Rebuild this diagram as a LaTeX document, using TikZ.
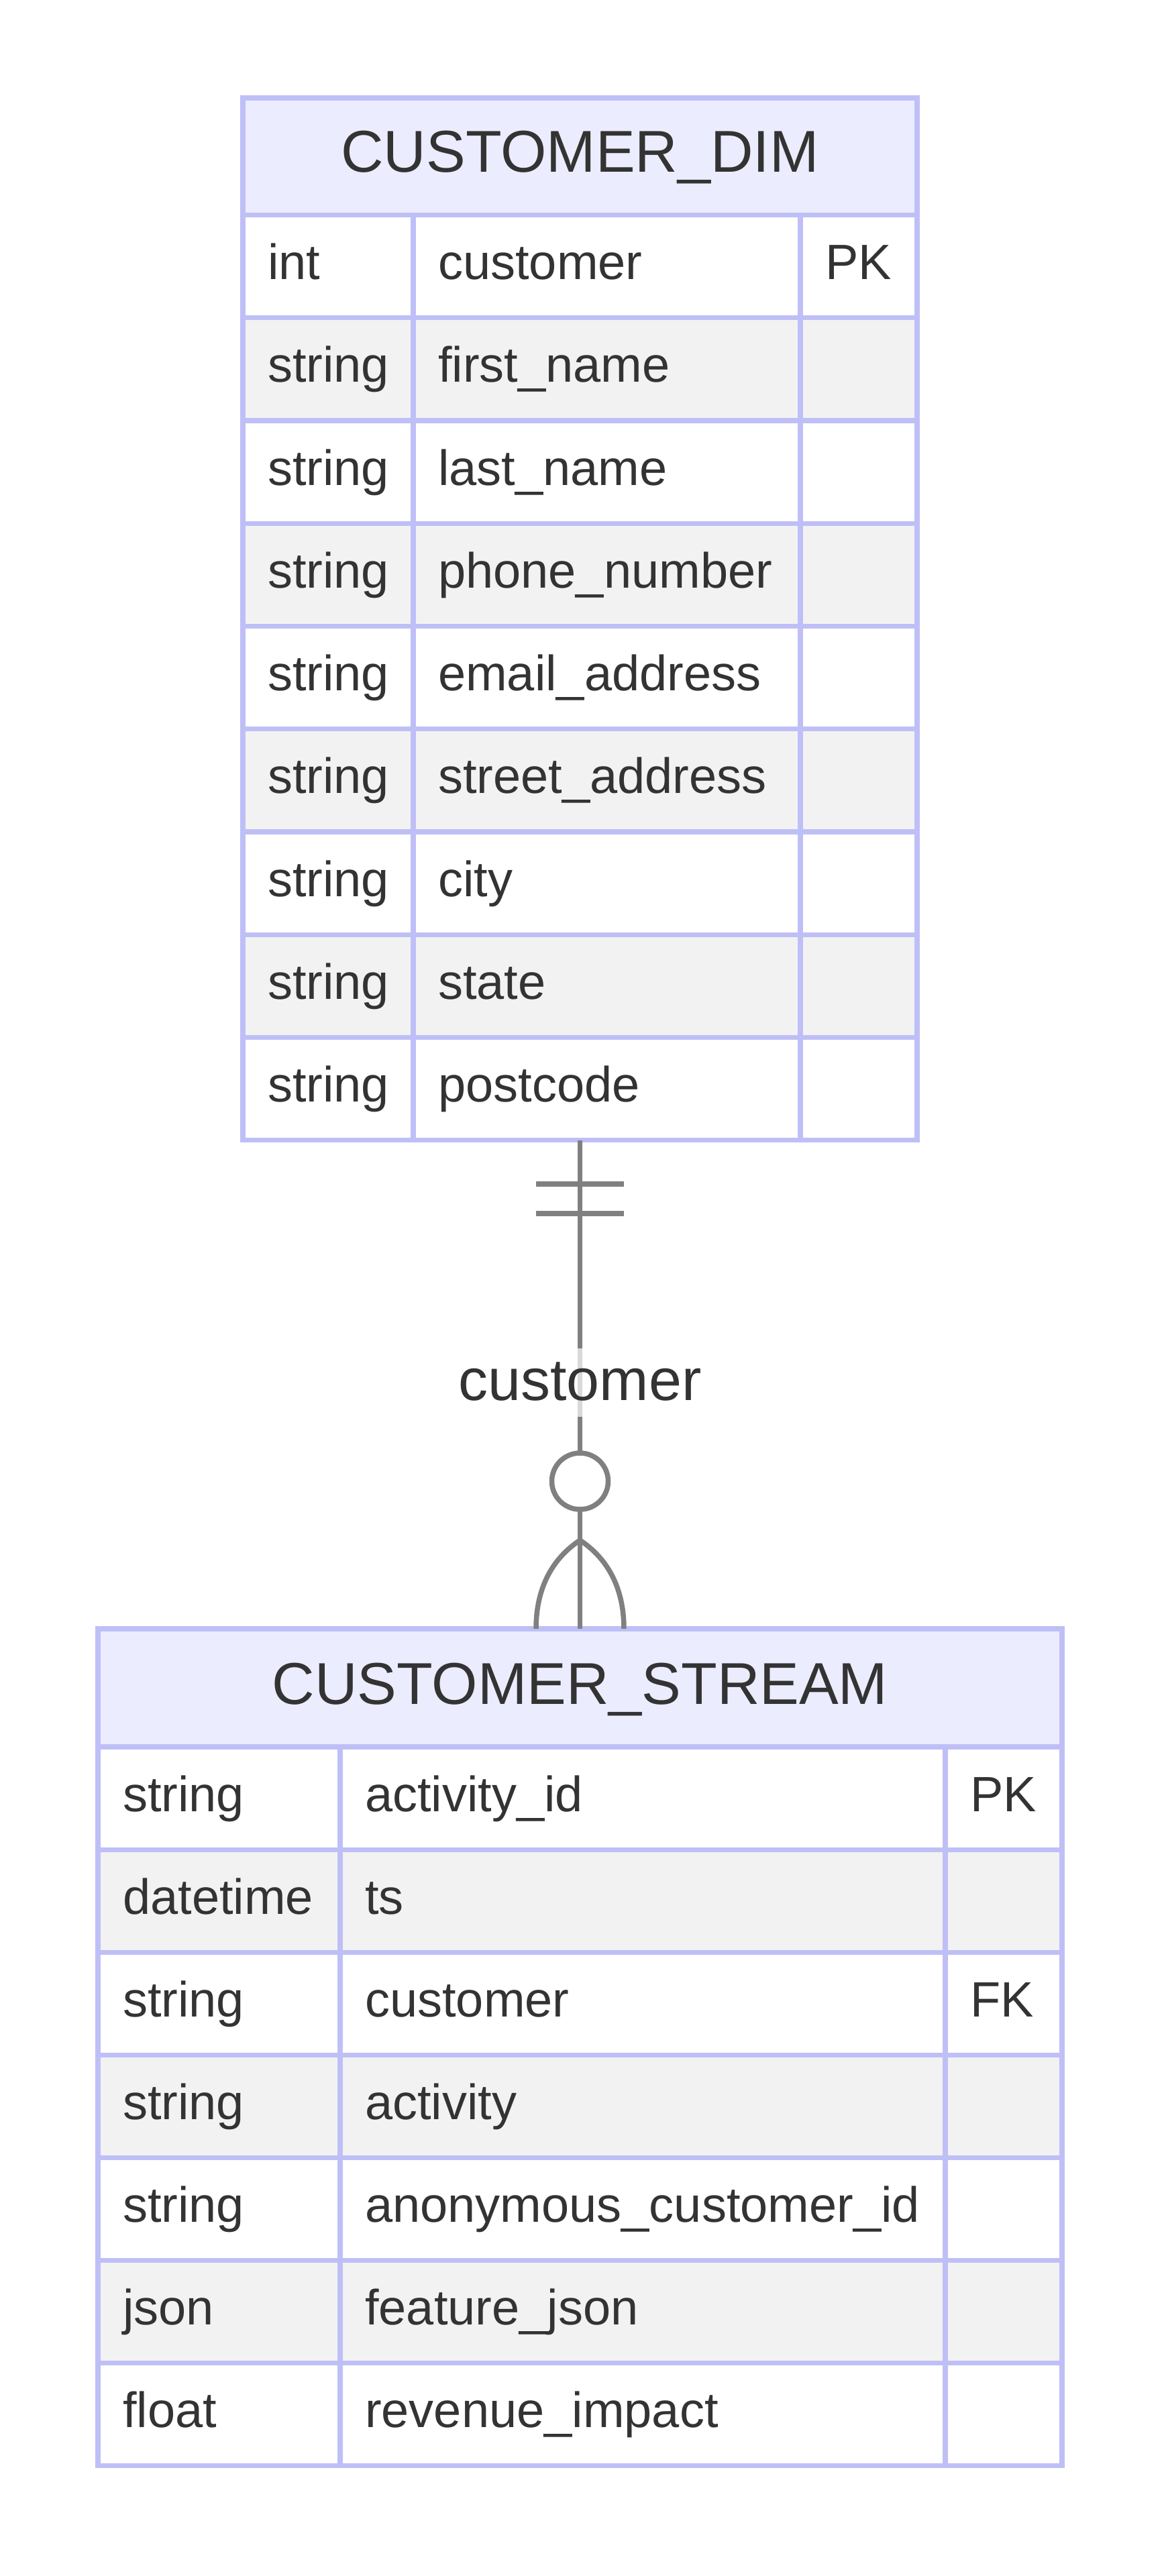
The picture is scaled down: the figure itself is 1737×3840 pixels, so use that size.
\documentclass[tikz,border=0pt]{standalone}
\usepackage{fontspec}
\setmainfont{Liberation Sans}
\definecolor{bordc}{HTML}{BFBFF7}
\definecolor{hdrc}{HTML}{ECECFF}
\definecolor{rowg}{HTML}{F2F2F2}
\definecolor{txtc}{HTML}{333333}
\definecolor{connc}{HTML}{808080}
\tikzset{
  tline/.style={draw=bordc, line width=7.2pt},
  cell/.style={anchor=base west, inner sep=0pt, text=txtc, font=\fontsize{74}{80}\selectfont},
  hdrtext/.style={anchor=base, inner sep=0pt, text=txtc, font=\fontsize{88}{96}\selectfont},
  conn/.style={draw=connc, line width=7.5pt},
  rellabel/.style={anchor=base, fill=white, fill opacity=0.7, text opacity=1, text=txtc,
     font=\fontsize{88}{96}\selectfont, text height=52pt, text depth=0pt, inner ysep=25pt, inner xsep=2pt}
}
\begin{document}
\begin{tikzpicture}[x=1pt,y=-1pt]
\useasboundingbox (0,0) rectangle (1737,3840);
\fill[white] (0,0) rectangle (1737,3840);

% ---------- CUSTOMER_DIM ----------
\def\L{362}\def\R{1367}\def\Da{616}\def\Db{1193}\def\T{146}\def\H{320.5}\def\rh{153.25}
\fill[hdrc] (\L,\T) rectangle (\R,\H);
\foreach \i in {0,...,8}{
  \pgfmathsetmacro\yt{\H+\i*\rh}
  \pgfmathsetmacro\yb{\H+(\i+1)*\rh}
  \ifodd\i \def\rc{rowg}\else\def\rc{white}\fi
  \fill[\rc] (\L,\yt) rectangle (\R,\yb);
}
\foreach \ty/\nm/\k [count=\i from 0] in {
  int/customer/PK, string/first\_name/, string/last\_name/, string/phone\_number/,
  string/email\_address/, string/street\_address/, string/city/, string/state/, string/postcode/}{
  \pgfmathsetmacro\yt{\H+\i*\rh}
  \pgfmathsetmacro\yb{\H+(\i+1)*\rh}
  \draw[tline] (\L,\yb) -- (\R,\yb);
  \node[cell] (dimT\i) at (\L+37,\yt+96) {\ty};
  \node[cell] (dimN\i) at (\Da+37,\yt+96) {\nm};
  \node[cell] (dimK\i) at (\Db+37,\yt+96) {\k};
}
\pgfmathsetmacro\Bd{\H+9*\rh}
\draw[tline] (\L,\H) -- (\R,\H);
\draw[tline] (\Da,\H) -- (\Da,\Bd);
\draw[tline] (\Db,\H) -- (\Db,\Bd);
\draw[tline] (\L,\T) rectangle (\R,\Bd);
\node[hdrtext] (dimhdr) at ({(\L+\R)/2},\T+111) {CUSTOMER\_DIM};

% ---------- CUSTOMER_STREAM ----------
\def\L{146}\def\R{1583}\def\Da{507}\def\Db{1409}\def\T{2428}\def\H{2604}\def\rh{153.1}
\fill[hdrc] (\L,\T) rectangle (\R,\H);
\foreach \i in {0,...,6}{
  \pgfmathsetmacro\yt{\H+\i*\rh}
  \pgfmathsetmacro\yb{\H+(\i+1)*\rh}
  \ifodd\i \def\rc{rowg}\else\def\rc{white}\fi
  \fill[\rc] (\L,\yt) rectangle (\R,\yb);
}
\foreach \ty/\nm/\k [count=\i from 0] in {
  string/activity\_id/PK, datetime/ts/, string/customer/FK, string/activity/,
  string/anonymous\_customer\_id/, json/feature\_json/, float/revenue\_impact/}{
  \pgfmathsetmacro\yt{\H+\i*\rh}
  \pgfmathsetmacro\yb{\H+(\i+1)*\rh}
  \draw[tline] (\L,\yb) -- (\R,\yb);
  \node[cell] (strT\i) at (\L+37,\yt+96) {\ty};
  \node[cell] (strN\i) at (\Da+37,\yt+96) {\nm};
  \node[cell] (strK\i) at (\Db+37,\yt+96) {\k};
}
\pgfmathsetmacro\Bs{\H+7*\rh}
\draw[tline] (\L,\H) -- (\R,\H);
\draw[tline] (\Da,\H) -- (\Da,\Bs);
\draw[tline] (\Db,\H) -- (\Db,\Bs);
\draw[tline] (\L,\T) rectangle (\R,\Bs);
\node[hdrtext] (strhdr) at ({(\L+\R)/2},\T+112) {CUSTOMER\_STREAM};

% ---------- relationship ----------
\coordinate (dimbot) at (864.5,1700);
\coordinate (strtop) at (864.5,2428);
\draw[conn] (dimbot) -- (strtop);
\draw[conn] (799,1765) -- (930,1765);
\draw[conn] (799,1809) -- (930,1809);
\draw[conn, fill=white] (864.5,2208) circle[radius=42pt];
\coordinate (fork) at (864.5,2296);
\draw[conn] (fork) .. controls (825,2322) and (799,2365) .. (799,2428);
\draw[conn] (fork) .. controls (904,2322) and (930,2365) .. (930,2428);
\node[rellabel] (rel) at (864.5,2087) {customer};
\end{tikzpicture}
\end{document}
